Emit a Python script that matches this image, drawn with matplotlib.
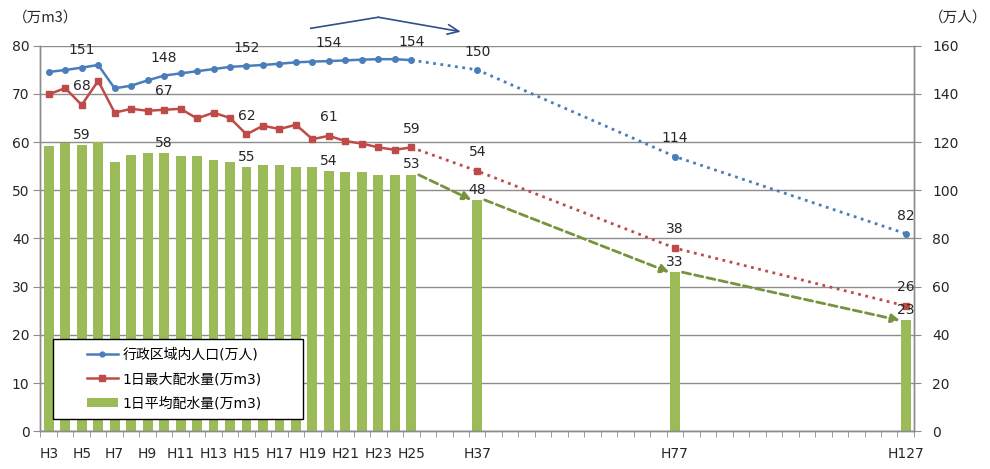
import numpy as np
import matplotlib
matplotlib.use("Agg")
from matplotlib import pyplot as plt
from matplotlib.lines import Line2D
from matplotlib.patches import Patch, Rectangle

plt.rcParams['font.family'] = ['DejaVu Sans', 'Noto Sans CJK JP']

# 実績 H3〜H25
years = [f'H{y}' for y in range(3, 26)]
pop = [149.1, 149.9, 150.9, 152.0, 142.3, 143.4, 145.6, 147.6, 148.5, 149.4, 150.3, 151.2,
       151.6, 152.0, 152.5, 153.1, 153.4, 153.6, 153.9, 154.2, 154.4, 154.4, 154.0]
max_q = [69.9, 71.2, 67.7, 72.7, 66.1, 66.9, 66.5, 66.7, 66.9, 64.9, 66.1, 65.0,
         61.6, 63.4, 62.7, 63.6, 60.6, 61.3, 60.2, 59.7, 58.9, 58.4, 58.9]
avg_q = [59.1, 59.9, 59.3, 60.0, 55.8, 57.4, 57.7, 57.7, 57.1, 57.1, 56.3, 55.8,
         54.8, 55.2, 55.2, 54.8, 54.8, 53.9, 53.7, 53.7, 53.2, 53.2, 53.2]
label_every = 5  # H5, H10, ... に値ラベル

# 将来推計
proj_years = ['H37', 'H77', 'H127']
proj_pop = [150, 114, 82]
proj_max = [54, 38, 26]
proj_avg = [48, 33, 23]

# 横軸の区分（空欄は間隔調整用）
cats = years + [''] * 3 + ['H37'] + [''] * 11 + ['H77'] + [''] * 13 + ['H127']

c_blue = '#4A7EBB'
c_red = '#BE4B48'
c_green = '#9BBB59'
c_arrow = '#77933C'
c_grid = '#8C8C8C'
c_text = '#262626'

x_act = np.arange(len(years))
x_proj = np.array([cats.index(y) for y in proj_years])

fig = plt.figure(figsize=(9.9, 4.69), dpi=100)
ax = fig.add_axes([0.0409, 0.0804, 0.8823, 0.8222])
ax2 = ax.twinx()

# 棒グラフ（1日平均配水量）
ax.bar(np.concatenate([x_act, x_proj]), avg_q + proj_avg, width=0.6, color=c_green, zorder=2)

# 1日最大配水量
ax.plot(x_act, max_q, '-s', color=c_red, lw=1.8, ms=5, zorder=3)
ax.plot(np.concatenate([[x_act[-1]], x_proj]), [max_q[-1]] + proj_max, ':', color=c_red, lw=2, zorder=3)
ax.plot(x_proj, proj_max, 's', color=c_red, ms=5, zorder=3)

# 行政区域内人口（右軸）
ax2.plot(x_act, pop, '-o', color=c_blue, lw=1.8, ms=4, zorder=3)
ax2.plot(np.concatenate([[x_act[-1]], x_proj]), [pop[-1]] + proj_pop, ':', color=c_blue, lw=2, zorder=3)
ax2.plot(x_proj, proj_pop, 'o', color=c_blue, ms=4, zorder=3)

# 平均配水量の推移矢印
ax_pts = [(x_act[-1], avg_q[-1])] + list(zip(x_proj, proj_avg))
for (x0, y0), (x1, y1) in zip(ax_pts[:-1], ax_pts[1:]):
    ax.annotate('', xy=(x1 - 0.35, y1), xytext=(x0 + 0.45, y0),
                arrowprops=dict(arrowstyle='-|>,head_length=0.5,head_width=0.25', color=c_arrow,
                                lw=2, linestyle=(0, (3, 1.5)), shrinkA=0, shrinkB=0),
                zorder=4)

# 値ラベル
lab_idx = [i for i in range(len(years)) if i % label_every == 2]
fs = 10
for i in lab_idx:
    ax2.annotate(f'{pop[i]:.0f}', (x_act[i], pop[i]), xytext=(0, 13), textcoords='offset points',
                 ha='center', va='center', fontsize=fs, color=c_text)
    ax.annotate(f'{max_q[i]:.0f}', (x_act[i], max_q[i]), xytext=(0, 13.5), textcoords='offset points',
                ha='center', va='center', fontsize=fs, color=c_text, zorder=5)
    ax.annotate(f'{avg_q[i]:.0f}', (x_act[i], avg_q[i]), xytext=(0, 7.5), textcoords='offset points',
                ha='center', va='center', fontsize=fs, color=c_text, zorder=5)
for x, p, m, a in zip(x_proj, proj_pop, proj_max, proj_avg):
    ax2.annotate(f'{p}', (x, p), xytext=(0, 13), textcoords='offset points',
                 ha='center', va='center', fontsize=fs, color=c_text)
    ax.annotate(f'{m}', (x, m), xytext=(0, 13.5), textcoords='offset points',
                ha='center', va='center', fontsize=fs, color=c_text, zorder=5)
    ax.annotate(f'{a}', (x, a), xytext=(0, 7.5), textcoords='offset points',
                ha='center', va='center', fontsize=fs, color=c_text, zorder=5)

# 軸
ax.set_xlim(-0.5, len(cats) - 0.5)
ax.set_ylim(0, 80)
ax2.set_ylim(0, 160)
ax.set_yticks(np.arange(0, 81, 10))
ax2.set_yticks(np.arange(0, 161, 20))
ax.set_xticks(np.arange(0, len(cats), 2))
ax.set_xticklabels(cats[::2])
ax.set_xticks(np.arange(-0.5, len(cats), 1), minor=True)
ax.tick_params(axis='x', which='major', length=0, pad=11, labelsize=fs, labelcolor=c_text)
ax.tick_params(axis='x', which='minor', length=4, color=c_grid, direction='out')
ax.tick_params(axis='y', length=5, color=c_grid, labelsize=fs, labelcolor=c_text, pad=3)
ax2.tick_params(axis='y', length=5, color=c_grid, labelsize=fs, labelcolor=c_text, pad=8)
ax.yaxis.grid(True, color=c_grid, lw=1)
ax.set_axisbelow(True)
for a in (ax, ax2):
    a.spines['top'].set_visible(False)
    for s in ('left', 'right', 'bottom'):
        a.spines[s].set_color(c_grid)
        a.spines[s].set_linewidth(1)

# 上部の矢印
ax.plot([15.9, 20.0], [83.6, 85.9], color='#2F4F8F', lw=1.2, clip_on=False)
ax.annotate('', xy=(25.0, 82.9), xytext=(20.0, 85.9), annotation_clip=False,
            arrowprops=dict(arrowstyle='->,head_length=0.8,head_width=0.35', color='#2F4F8F',
                            lw=1.2, shrinkA=0, shrinkB=0))

# 単位
unit_font = ['Noto Sans CJK JP', 'DejaVu Sans']
fig.text(13 / 990, 1 - 18 / 469, '（万m3）', ha='left', va='center', fontsize=10.5,
         color=c_text, family=unit_font)
fig.text(929 / 990, 1 - 18 / 469, '（万人）', ha='left', va='center', fontsize=10.5,
         color=c_text, family=unit_font)

# 凡例
box = Rectangle((0.0147, 0.032), 0.2855, 0.2067, transform=ax2.transAxes, facecolor='white',
                edgecolor='black', lw=1, zorder=8)
ax2.add_patch(box)
handles = [Line2D([], [], color=c_blue, marker='o', ms=3.5, lw=1.8),
           Line2D([], [], color=c_red, marker='s', ms=4.5, lw=1.8),
           Patch(facecolor=c_green)]
labels = ['行政区域内人口(万人)', '1日最大配水量(万m3)', '1日平均配水量(万m3)']
leg = ax2.legend(handles, labels, loc='center', bbox_to_anchor=(0.153, 0.1355),
                 frameon=False, fontsize=fs, handlelength=2.3, handletextpad=0.3,
                 labelspacing=0.75, borderpad=0)
leg.set_zorder(9)

fig.savefig('out.png', dpi=100)
